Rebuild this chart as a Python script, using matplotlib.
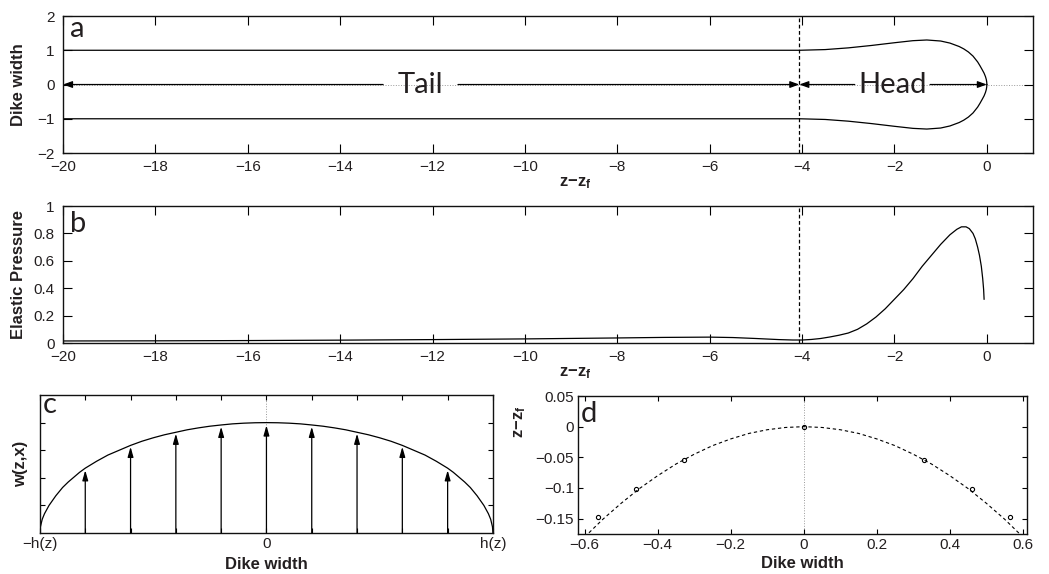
import numpy as np
import matplotlib.pyplot as plt

plt.rcParams['font.family'] = ['Liberation Sans', 'DejaVu Sans']
plt.rcParams['mathtext.fontset'] = 'custom'
plt.rcParams['mathtext.rm'] = 'Liberation Sans'
plt.rcParams['mathtext.bf'] = 'Liberation Sans:bold'
plt.rcParams['axes.unicode_minus'] = True

# --- panel a: dike outline (upper half, mirrored below) ---
outline_z = [-20, -4.05, -3.5, -3.0, -2.5, -2.0, -1.6, -1.3, -1.0, -0.8, -0.6,
             -0.5, -0.4, -0.3, -0.2, -0.15, -0.1, -0.06, -0.03, -0.012, -0.003, 0.0]
outline_w = [1.0, 1.0, 1.02, 1.07, 1.14, 1.22, 1.28, 1.30, 1.27, 1.21, 1.11,
             1.04, 0.95, 0.83, 0.66, 0.55, 0.43, 0.33, 0.23, 0.145, 0.07, 0.0]
front_z = -4.06                      # tail / head boundary
tail_span = (-20, front_z)
head_span = (front_z, 0)
tail_gap = (-13.07, -11.45)          # gaps in the arrows around the words
head_gap = (-2.86, -1.23)
tail_label_z = -12.26
head_label_z = -2.04

# --- panel b: elastic pressure ---
press_z = [-20, -18, -16, -14, -12, -10, -8, -7, -6, -5.5, -5, -4.5, -4.2, -4.0,
           -3.8, -3.6, -3.4, -3.2, -3.0, -2.8, -2.6, -2.4, -2.2, -2.0, -1.8, -1.6,
           -1.4, -1.2, -1.0, -0.8, -0.65, -0.55, -0.45, -0.38, -0.3, -0.25, -0.2,
           -0.16, -0.12, -0.09, -0.07, -0.06]
press_p = [0.015, 0.016, 0.018, 0.021, 0.025, 0.030, 0.037, 0.041, 0.043, 0.040,
           0.033, 0.025, 0.022, 0.022, 0.026, 0.033, 0.044, 0.057, 0.073, 0.10,
           0.14, 0.19, 0.25, 0.32, 0.39, 0.47, 0.56, 0.64, 0.72, 0.79, 0.83,
           0.848, 0.848, 0.835, 0.80, 0.76, 0.70, 0.64, 0.56, 0.47, 0.39, 0.32]

# --- panel c: width profile across the dike (left half, mirrored) ---
prof_x_left = [-1, -0.998, -0.99, -0.98, -0.96, -0.93, -0.9, -0.875, -0.85,
               -0.825, -0.8, -0.75, -0.7, -0.65, -0.6, -0.55, -0.5, -0.45, -0.4,
               -0.35, -0.3, -0.25, -0.2, -0.15, -0.1, -0.05]
prof_w_left = [0, 0.045, 0.10, 0.14, 0.20, 0.27, 0.33, 0.37, 0.405, 0.44,
               0.47, 0.52, 0.565, 0.60, 0.635, 0.665, 0.69, 0.712, 0.73, 0.748,
               0.762, 0.774, 0.783, 0.791, 0.796, 0.799]
prof_peak = 0.8
arrow_x = [-0.8, -0.6, -0.4, -0.2, 0, 0.2, 0.4, 0.6, 0.8]
arrow_w = [0.455, 0.625, 0.72, 0.77, 0.78, 0.77, 0.72, 0.625, 0.455]

# --- panel d: front shape ---
front_x = [-0.6, -0.55, -0.5, -0.45, -0.4, -0.35, -0.3, -0.25, -0.2, -0.15, -0.1,
           -0.05, 0, 0.05, 0.1, 0.15, 0.2, 0.25, 0.3, 0.35, 0.4, 0.45, 0.5, 0.55, 0.6]
front_y = [-0.180, -0.151, -0.125, -0.101, -0.080, -0.061, -0.045, -0.031, -0.020,
           -0.011, -0.005, -0.0013, 0, -0.0013, -0.005, -0.011, -0.020, -0.031,
           -0.045, -0.061, -0.080, -0.101, -0.125, -0.151, -0.180]
pts_x = [-0.564, -0.460, -0.329, 0, 0.330, 0.460, 0.565]
pts_y = [-0.148, -0.102, -0.055, 0, -0.055, -0.102, -0.148]

TXT = '#231f20'
LETTER_FONT = ['Lato', 'DejaVu Sans']
ZLABEL = r'$\mathbf{z{-}z_f}$'


def style(ax, ticklen, ypad=6, xpad=5):
    ax.tick_params(direction='in', top=True, right=True, length=ticklen,
                   width=0.8, labelsize=11, labelcolor=TXT)
    ax.tick_params(axis='x', pad=xpad)
    ax.tick_params(axis='y', pad=ypad)
    for s in ax.spines.values():
        s.set_linewidth(1.0)
        s.set_color('#111111')


def letter(ax, s, y):
    ax.text(0.007, y, s, transform=ax.transAxes, fontsize=21, color=TXT,
            family=LETTER_FONT, ha='left', va='baseline')


fig = plt.figure(figsize=(10.49, 5.74), dpi=100)

# ---------------- a ----------------
ax_a = fig.add_axes([0.0601, 0.7334, 0.9247, 0.2387])
ax_a.axhline(0, color='#999999', ls=':', lw=0.7, zorder=0)
ax_a.plot(outline_z, outline_w, color='k', lw=0.9)
ax_a.plot(outline_z, np.negative(outline_w), color='k', lw=0.9)
ax_a.axvline(front_z, color='k', ls=(0, (3, 2)), lw=0.9)
arr = dict(arrowstyle='-|>,head_length=0.55,head_width=0.2', color='k', lw=0.9,
           shrinkA=0, shrinkB=0, mutation_scale=10)
ax_a.annotate('', xy=(tail_span[0], 0), xytext=(tail_gap[0], 0), arrowprops=arr)
ax_a.annotate('', xy=(tail_span[1], 0), xytext=(tail_gap[1], 0), arrowprops=arr)
ax_a.annotate('', xy=(head_span[0], 0), xytext=(head_gap[0], 0), arrowprops=arr)
ax_a.annotate('', xy=(head_span[1], 0), xytext=(head_gap[1], 0), arrowprops=arr)
ax_a.text(tail_label_z, -0.26, 'Tail', fontsize=21, family=LETTER_FONT,
          color=TXT, ha='center', va='baseline')
ax_a.text(head_label_z, -0.26, 'Head', fontsize=21, family=LETTER_FONT,
          color=TXT, ha='center', va='baseline')
ax_a.set_xlim(-20, 1)
ax_a.set_ylim(-2, 2)
ax_a.set_xticks(np.arange(-20, 1, 2))
ax_a.set_yticks([-2, -1, 0, 1, 2])
style(ax_a, 6.8)
ax_a.set_ylabel('Dike width', fontweight='bold', fontsize=12, color=TXT)
ax_a.yaxis.set_label_coords(-0.038, 0.5)
ax_a.set_xlabel(ZLABEL, fontsize=12, color=TXT)
ax_a.xaxis.set_label_coords(0.528, -0.16)
letter(ax_a, 'a', 0.845)

# ---------------- b ----------------
ax_b = fig.add_axes([0.0601, 0.4024, 0.9247, 0.2387])
ax_b.plot(press_z, press_p, color='k', lw=0.9)
ax_b.axvline(front_z, color='k', ls=(0, (3, 2)), lw=0.9)
ax_b.set_xlim(-20, 1)
ax_b.set_ylim(0, 1)
ax_b.set_xticks(np.arange(-20, 1, 2))
ax_b.set_yticks([0, 0.2, 0.4, 0.6, 0.8, 1])
ax_b.set_yticklabels(['0', '0.2', '0.4', '0.6', '0.8', '1'])
style(ax_b, 6.8)
ax_b.set_ylabel('Elastic Pressure', fontweight='bold', fontsize=12, color=TXT)
ax_b.yaxis.set_label_coords(-0.038, 0.5)
ax_b.set_xlabel(ZLABEL, fontsize=12, color=TXT)
ax_b.xaxis.set_label_coords(0.528, -0.16)
letter(ax_b, 'b', 0.81)

# ---------------- c ----------------
ax_c = fig.add_axes([0.0381, 0.0714, 0.4318, 0.2404])
prof_x = prof_x_left + [0] + [-x for x in reversed(prof_x_left)]
prof_w = prof_w_left + [prof_peak] + list(reversed(prof_w_left))
ax_c.axvline(0, color='#999999', ls=':', lw=0.7, zorder=0)
ax_c.plot(prof_x, prof_w, color='k', lw=0.9)
arr_c = dict(arrowstyle='-|>,head_length=0.6,head_width=0.17', color='k', lw=0.9,
             shrinkA=0, shrinkB=0, mutation_scale=10)
for x, w in zip(arrow_x, arrow_w):
    ax_c.annotate('', xy=(x, w), xytext=(x, 0), arrowprops=arr_c)
ax_c.set_xlim(-1, 1)
ax_c.set_ylim(0, 1)
ax_c.set_xticks(np.linspace(-1, 1, 11))
ax_c.set_xticklabels(['\u2212h(z)', '', '', '', '', '0', '', '', '', '', 'h(z)'])
ax_c.set_yticks([0.2, 0.4, 0.6, 0.8])
ax_c.set_yticklabels([])
style(ax_c, 3.8, xpad=3)
ax_c.set_ylabel('w(z,x)', fontweight='bold', fontsize=12, color=TXT)
ax_c.yaxis.set_label_coords(-0.026, 0.5)
ax_c.set_xlabel('Dike width', fontweight='bold', fontsize=12, color=TXT, labelpad=4)
letter(ax_c, 'c', 0.87)

# ---------------- d ----------------
ax_d = fig.add_axes([0.551, 0.0697, 0.428, 0.2404])
ax_d.axvline(0, color='#999999', ls=':', lw=0.7, zorder=0)
ax_d.plot(front_x, front_y, color='k', ls=(0, (3, 2.5)), lw=0.8)
ax_d.plot(pts_x, pts_y, 'o', mfc='none', mec='k', ms=3, mew=0.8)
ax_d.set_xlim(-0.618, 0.611)
ax_d.set_ylim(-0.175, 0.05)
ax_d.set_xticks([-0.6, -0.4, -0.2, 0, 0.2, 0.4, 0.6])
ax_d.set_xticklabels(['\u22120.6', '\u22120.4', '\u22120.2', '0', '0.2', '0.4', '0.6'])
ax_d.set_yticks([-0.15, -0.1, -0.05, 0, 0.05])
ax_d.set_yticklabels(['\u22120.15', '\u22120.1', '\u22120.05', '0', '0.05'])
style(ax_d, 3.8, ypad=3, xpad=3)
ax_d.set_ylabel(ZLABEL, fontsize=12, color=TXT)
ax_d.yaxis.set_label_coords(-0.111, 0.81)
ax_d.set_xlabel('Dike width', fontweight='bold', fontsize=12, color=TXT, labelpad=3)
letter(ax_d, 'd', 0.81)

fig.savefig('out.png', dpi=100)
